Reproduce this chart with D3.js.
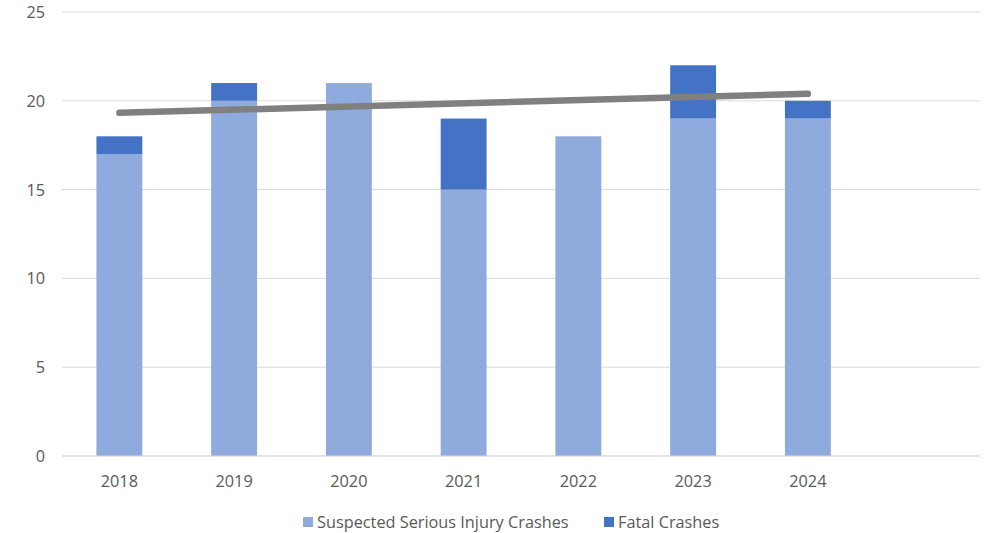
<!DOCTYPE html>
<html><head><meta charset="utf-8">
<script src="https://cdn.jsdelivr.net/npm/d3@7"></script>
<style>body{margin:0;background:#fff}svg{display:block}text{font-family:"Open Sans",Calibri,sans-serif;fill:#595959}</style>
</head><body><svg id="c" width="992" height="533"></svg>
<script>
const years = ["2018","2019","2020","2021","2022","2023","2024"];
const slots = ["2018","2019","2020","2021","2022","2023","2024",""];
const serious = [17,20,21,15,18,19,19];
const fatal = [1,1,0,4,0,3,1];
const yTicks = [0,5,10,15,20,25];
const seriesNames = ["Suspected Serious Injury Crashes","Fatal Crashes"];
const colors = ["#8faadc","#4472c4"];

const svg = d3.select("#c");
const L=62,R=980,T=12,B=456;
const FS=16.3;
const x = d3.scaleBand().domain(slots).range([L,R]).paddingInner(0.6).paddingOuter(0.3);
const y = d3.scaleLinear().domain([0,25]).range([B,T]);

svg.append("g").selectAll("line").data(yTicks).join("line")
  .attr("x1",L).attr("x2",R).attr("y1",d=>y(d)).attr("y2",d=>y(d))
  .attr("stroke","#d9d9d9").attr("stroke-width",1);
svg.append("g").selectAll("text").data(yTicks).join("text")
  .attr("x",45).attr("y",d=>y(d)+6).attr("text-anchor","end").attr("font-size",FS).text(d=>d);

const data = years.map((yr,i)=>({yr,s:serious[i],f:fatal[i]}));
const stack = d3.stack().keys(["s","f"])(data);
stack.forEach((layer,k)=>{
  svg.append("g").selectAll("rect").data(layer).join("rect")
    .attr("x",d=>x(d.data.yr)).attr("width",x.bandwidth())
    .attr("y",d=>y(d[1])).attr("height",d=>y(d[0])-y(d[1]))
    .attr("fill",colors[k]);
});
svg.append("line").attr("x1",L).attr("x2",R).attr("y1",B).attr("y2",B).attr("stroke","#d9d9d9");

svg.append("g").selectAll("text").data(years).join("text")
  .attr("x",d=>x(d)+x.bandwidth()/2).attr("y",487).attr("text-anchor","middle").attr("font-size",FS).text(d=>d);

// linear trendline of totals
const tot = data.map(d=>d.s+d.f);
const n=tot.length, xs=d3.range(1,n+1);
const mx=d3.mean(xs), my=d3.mean(tot);
const slope=d3.sum(xs,(v,i)=>(v-mx)*(tot[i]-my))/d3.sum(xs,v=>(v-mx)**2);
const icpt=my-slope*mx;
svg.append("line")
  .attr("x1",x(years[0])+x.bandwidth()/2).attr("y1",y(icpt+slope*1))
  .attr("x2",x(years[n-1])+x.bandwidth()/2).attr("y2",y(icpt+slope*n))
  .attr("stroke","#808080").attr("stroke-width",6.5).attr("stroke-linecap","round");

// legend
const lg=[{x:303,t:seriesNames[0],c:colors[0]},{x:604,t:seriesNames[1],c:colors[1]}];
lg.forEach(d=>{
  svg.append("rect").attr("x",d.x).attr("y",517).attr("width",10).attr("height",10).attr("fill",d.c);
  svg.append("text").attr("x",d.x+14).attr("y",528).attr("font-size",FS).text(d.t);
});
</script></body></html>
